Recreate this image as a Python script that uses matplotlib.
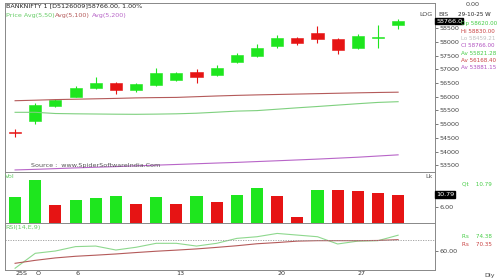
import numpy as np
import matplotlib
matplotlib.use("Agg")
import matplotlib.pyplot as plt

# daily candles, BANKNIFTY 1, 30 Sep .. 29 Oct 2025
opens = [54726, 55128, 55653, 56003, 56310, 56515, 56248, 56430, 56613, 56916,
         56795, 57259, 57489, 57854, 58146, 58329, 58110, 57781, 58164, 58620]
highs = [54814, 55763, 55920, 56394, 56712, 56540, 56515, 57040, 56916, 57004,
         57160, 57610, 57927, 58255, 58200, 58584, 58146, 58292, 58620, 58830]
lows = [54532, 55007, 55627, 55982, 56285, 56102, 56175, 56412, 56588, 56514,
        56760, 57233, 57452, 57781, 57909, 57963, 57562, 57744, 57781, 58459]
closes = [54668, 55700, 55883, 56332, 56515, 56248, 56467, 56880, 56880, 56733,
          57040, 57526, 57770, 58135, 57963, 58110, 57708, 58219, 58183, 58766]

avg50 = [55434, 55434, 55390, 55379, 55372, 55365, 55361, 55368, 55379, 55401,
         55438, 55478, 55496, 55547, 55598, 55646, 55697, 55748, 55795, 55821.28]
avg100 = [55857, 55876, 55898, 55912, 55927, 55942, 55960, 55971, 55978, 56004,
          56030, 56052, 56070, 56085, 56100, 56115, 56130, 56145, 56158, 56168.40]
avg200 = [53330, 53352, 53378, 53405, 53430, 53452, 53480, 53505, 53530, 53556,
          53582, 53606, 53636, 53665, 53695, 53726, 53760, 53795, 53838, 53881.15]

volume = [9.9, 16.3, 6.75, 8.66, 9.54, 10.3, 7.4, 9.9, 7.4, 10.2,
          7.9, 10.6, 13.5, 10.2, 2.3, 12.5, 12.5, 12.2, 11.6, 10.79]
vol_up = [1, 1, 0, 1, 1, 1, 0, 1, 0, 1, 0, 1, 1, 0, 0, 1, 0, 0, 0, 0]

rsi = [44.3, 57.9, 60.0, 64.0, 64.5, 60.9, 63.4, 67.0, 67.0, 64.5,
       67.0, 71.5, 73.0, 76.0, 74.5, 73.0, 66.4, 69.0, 69.4, 74.38]
rsi_sig = [48.8, 51.5, 53.7, 55.2, 56.2, 57.3, 58.6, 59.8, 60.8, 61.9,
           63.3, 64.8, 66.6, 67.7, 69.0, 69.4, 69.4, 69.4, 69.6, 70.35]

tick_pos = [0, 1, 3, 8, 13, 17]
tick_txt = ["25S", "O", "6", "13", "20", "27"]
price_ticks = [58500, 58000, 57500, 57000, 56500, 56000, 55500, 55000, 54500, 54000, 53500]

GREEN = "#1ee61e"
RED = "#e61414"
GRID = "#888888"
FS = 4.6
FS_INFO = 4.1

plt.rcParams["font.family"] = ["DejaVu Sans"]
fig = plt.figure(figsize=(5, 2.8), dpi=100)

def px(x, y):
    return x / 500, 1 - y / 280

L, W = 0.01, 0.86
ax = fig.add_axes([L, 1 - 172 / 280, W, 169 / 280])
axv = fig.add_axes([L, 1 - 223 / 280, W, 51 / 280], sharex=ax)
axr = fig.add_axes([L, 1 - 270 / 280, W, 47 / 280], sharex=ax)

x = np.arange(len(opens))
o = np.array(opens); c = np.array(closes)
cols = [GREEN if cc >= oo else RED for oo, cc in zip(o, c)]
ax.vlines(x, lows, highs, colors=cols, lw=0.8)
body = np.maximum(np.abs(c - o), 18)
ax.bar(x, body, bottom=np.minimum(o, c), width=0.6, color=cols, edgecolor=cols, lw=0.4)
ax.plot(x, avg50, color="#7fd07f", lw=0.8)
ax.plot(x, avg100, color="#b45a5a", lw=0.8)
ax.plot(x, avg200, color="#b865c8", lw=0.8)
ax.set_xlim(-0.5, 20.83)
ax.set_ylim(53255, 59424)
ax.yaxis.tick_right()
ax.set_yticks(price_ticks)
ax.set_yticklabels([str(p) for p in price_ticks])

vcols = [GREEN if u else RED for u in vol_up]
axv.bar(x, volume, width=0.6, color=vcols)
axv.set_ylim(0, 19.5)
axv.yaxis.tick_right()
axv.set_yticks([6])
axv.set_yticklabels(["6.00"])

axr.plot(x, rsi, color="#8ed88e", lw=0.8)
axr.plot(x, rsi_sig, color="#b45a5a", lw=0.8)
axr.axhline(70, color="#999999", lw=0.6, ls=(0, (1.5, 1.5)))
axr.set_ylim(42.7, 85.5)
axr.yaxis.tick_right()
axr.set_yticks([60])
axr.set_yticklabels(["60.00"])
axr.set_xticks(tick_pos)
axr.set_xticklabels(tick_txt)

for a in (ax, axv, axr):
    for s in a.spines.values():
        s.set_color(GRID)
        s.set_linewidth(0.7)
    a.tick_params(axis="y", labelsize=FS, length=2, width=0.5, colors="#444444", pad=1)
    a.tick_params(axis="x", labelsize=FS, length=0, colors="#333333", pad=1)
for a in (ax, axv):
    a.tick_params(axis="x", labelbottom=False)
for lab in axr.get_xticklabels():
    lab.set_horizontalalignment("left")

# boxed last values on the scale
ax.text(1.003, 58766, "58766.0", transform=ax.get_yaxis_transform(), fontsize=FS,
        color="white", va="center", ha="left",
        bbox=dict(boxstyle="square,pad=0.15", fc="black", ec="black"))
axv.text(1.003, 10.79, "10.79", transform=axv.get_yaxis_transform(), fontsize=FS,
         color="white", va="center", ha="left",
         bbox=dict(boxstyle="square,pad=0.15", fc="black", ec="black"))

# titles inside panes
fig.text(*px(6, 6), "BANKNIFTY 1 [D5126009]58766.00, 1.00%", fontsize=FS, color="#222222", va="center")
fig.text(*px(6, 15), "Price Avg(5,50)", fontsize=FS, color="#66cc66", va="center")
fig.text(*px(55, 15), "Avg(5,100)", fontsize=FS, color="#b45a5a", va="center")
fig.text(*px(92, 15), "Avg(5,200)", fontsize=FS, color="#b865c8", va="center")
fig.text(*px(31, 166), "Source :  www.SpiderSoftwareIndia.Com", fontsize=FS, color="#555555", va="center")
fig.text(*px(5, 176), "Vol", fontsize=FS, color="#66cc66", va="center")
fig.text(*px(5, 227), "RSI(14,E,9)", fontsize=FS, color="#66cc66", va="center")
fig.text(*px(433, 176), "Lk", fontsize=FS, color="#555555", va="center", ha="right")
fig.text(*px(433, 14), "LOG", fontsize=FS, color="#444444", va="center", ha="right")

# right info panel
fig.text(*px(438, 14), "BIS", fontsize=FS, color="#444444", va="center")
fig.text(*px(466, 5), "0.00", fontsize=FS, color="#444444", va="center")
fig.text(*px(458, 15), "29-10-25 W", fontsize=FS_INFO, color="#222222", va="center")
info = [("Op 58620.00", "#44cc44"), ("Hi 58830.00", "#c84040"), ("Lo 58459.21", "#c0c0c0"),
        ("Cl 58766.00", "#b050c0"), ("Av 55821.28", "#44cc44"), ("Av 56168.40", "#c84040"),
        ("Av 53881.15", "#b050c0")]
for k, (t, col) in enumerate(info):
    fig.text(*px(461, 24 + k * 7.3), t, fontsize=FS_INFO, color=col, va="center")
fig.text(*px(462, 184), "Qt    10.79", fontsize=FS_INFO, color="#44cc44", va="center")
fig.text(*px(462, 237), "Rs    74.38", fontsize=FS_INFO, color="#44cc44", va="center")
fig.text(*px(462, 245), "Rs    70.35", fontsize=FS_INFO, color="#c84040", va="center")
fig.text(*px(484, 275), "Dly", fontsize=FS, color="#444444", va="center")

fig.savefig("out.png", dpi=100)
